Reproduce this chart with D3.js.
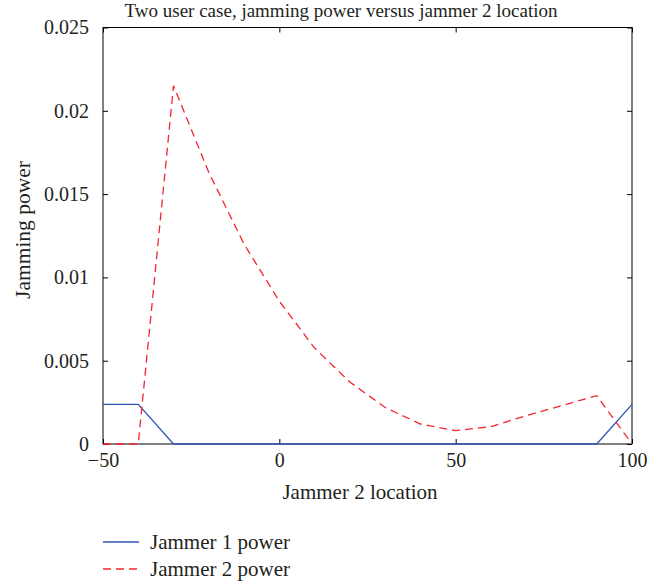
<!DOCTYPE html>
<html>
<head>
<meta charset="utf-8">
<script src="https://cdn.jsdelivr.net/npm/d3@7"></script>
<style>
  html, body { margin: 0; padding: 0; background: #fff; }
  svg { display: block; }
  text { font-family: "Liberation Serif", "Times New Roman", serif; fill: #231f20; }
</style>
</head>
<body>
<svg id="chart" width="672" height="586"></svg>
<script>
// ---- data ----
const xLocations = [-50, -40, -30, -20, -10, 0, 10, 20, 30, 40, 50, 60, 70, 80, 90, 100];
const jammer1Power = [0.00238, 0.00238, 0, 0, 0, 0, 0, 0, 0, 0, 0, 0, 0, 0, 0, 0.00238];
const jammer2Power = [0, 0, 0.0215, 0.0163, 0.0120, 0.00857, 0.00576, 0.00372, 0.00219, 0.0012, 0.0008, 0.00104, 0.0017, 0.00230, 0.0029, 0];
const xTicks = [-50, 0, 50, 100];
const yTicks = [0, 0.005, 0.01, 0.015, 0.02, 0.025];
const yTickLabels = ["0", "0.005", "0.01", "0.015", "0.02", "0.025"];
const seriesNames = ["Jammer 1 power", "Jammer 2 power"];
const titleText = "Two user case, jamming power versus jammer 2 location";
const xLabelText = "Jammer 2 location";
const yLabelText = "Jamming power";

// ---- layout ----
const svg = d3.select("#chart");
const pLeft = 103, pRight = 632, pTop = 27.5, pBottom = 444;
const x = d3.scaleLinear().domain([-50, 100]).range([pLeft, pRight]);
const y = d3.scaleLinear().domain([0, 0.025]).range([pBottom, pTop]);
const blue = "#2f55b5", red = "#f2262e";
const dash = "8,5";

// box
svg.append("rect")
  .attr("x", pLeft).attr("y", pTop)
  .attr("width", pRight - pLeft).attr("height", pBottom - pTop)
  .attr("fill", "none").attr("stroke", "#000").attr("stroke-width", 1);

const tickLen = 5;
const xAxisB = d3.axisBottom(x).tickValues(xTicks).tickSize(-tickLen).tickPadding(13)
  .tickFormat(d => d < 0 ? "\u2212" + Math.abs(d) : String(d));
const gxb = svg.append("g").attr("transform", `translate(0,${pBottom})`).call(xAxisB);
const xAxisT = d3.axisTop(x).tickValues(xTicks).tickSize(-tickLen).tickFormat("");
const gxt = svg.append("g").attr("transform", `translate(0,${pTop})`).call(xAxisT);
const yAxisL = d3.axisLeft(y).tickValues(yTicks).tickSize(-tickLen).tickPadding(14)
  .tickFormat((d, i) => yTickLabels[i]);
const gyl = svg.append("g").attr("transform", `translate(${pLeft},0)`).call(yAxisL);
const yAxisR = d3.axisRight(y).tickValues(yTicks).tickSize(-tickLen).tickFormat("");
const gyr = svg.append("g").attr("transform", `translate(${pRight},0)`).call(yAxisR);
[gxb, gxt, gyl, gyr].forEach(g => {
  g.select(".domain").remove();
  g.selectAll(".tick line").attr("stroke", "#000").attr("stroke-width", 1);
  g.selectAll("text").style("font-family", "Liberation Serif").style("font-size", "20px").attr("fill", "#231f20");
});
gxb.selectAll("text").attr("dy", "0.5em");

// lines
const line = d3.line().x((d, i) => x(xLocations[i])).y(d => y(d));
svg.append("path").datum(jammer1Power)
  .attr("d", line).attr("fill", "none").attr("stroke", blue).attr("stroke-width", 1.3);
svg.append("path").datum(jammer2Power)
  .attr("d", line).attr("fill", "none").attr("stroke", red).attr("stroke-width", 1.3)
  .attr("stroke-dasharray", dash);

// title & labels
svg.append("text").attr("x", 341).attr("y", 17).attr("text-anchor", "middle")
  .style("font-size", "19px").text(titleText);
svg.append("text").attr("x", 360).attr("y", 499).attr("text-anchor", "middle")
  .style("font-size", "21px").text(xLabelText);
svg.append("text").attr("transform", "translate(30,230) rotate(-90)").attr("text-anchor", "middle")
  .style("font-size", "21.5px").text(yLabelText);

// legend
const legend = svg.append("g");
const legY = [542, 569];
const colors = [blue, red];
seriesNames.forEach((name, i) => {
  legend.append("line").attr("x1", 103).attr("x2", 139).attr("y1", legY[i]).attr("y2", legY[i])
    .attr("stroke", colors[i]).attr("stroke-width", 1.3)
    .attr("stroke-dasharray", i === 1 ? dash : null);
  legend.append("text").attr("x", 150).attr("y", legY[i] + 6.5)
    .style("font-size", "21px").text(name);
});
</script>
</body>
</html>
